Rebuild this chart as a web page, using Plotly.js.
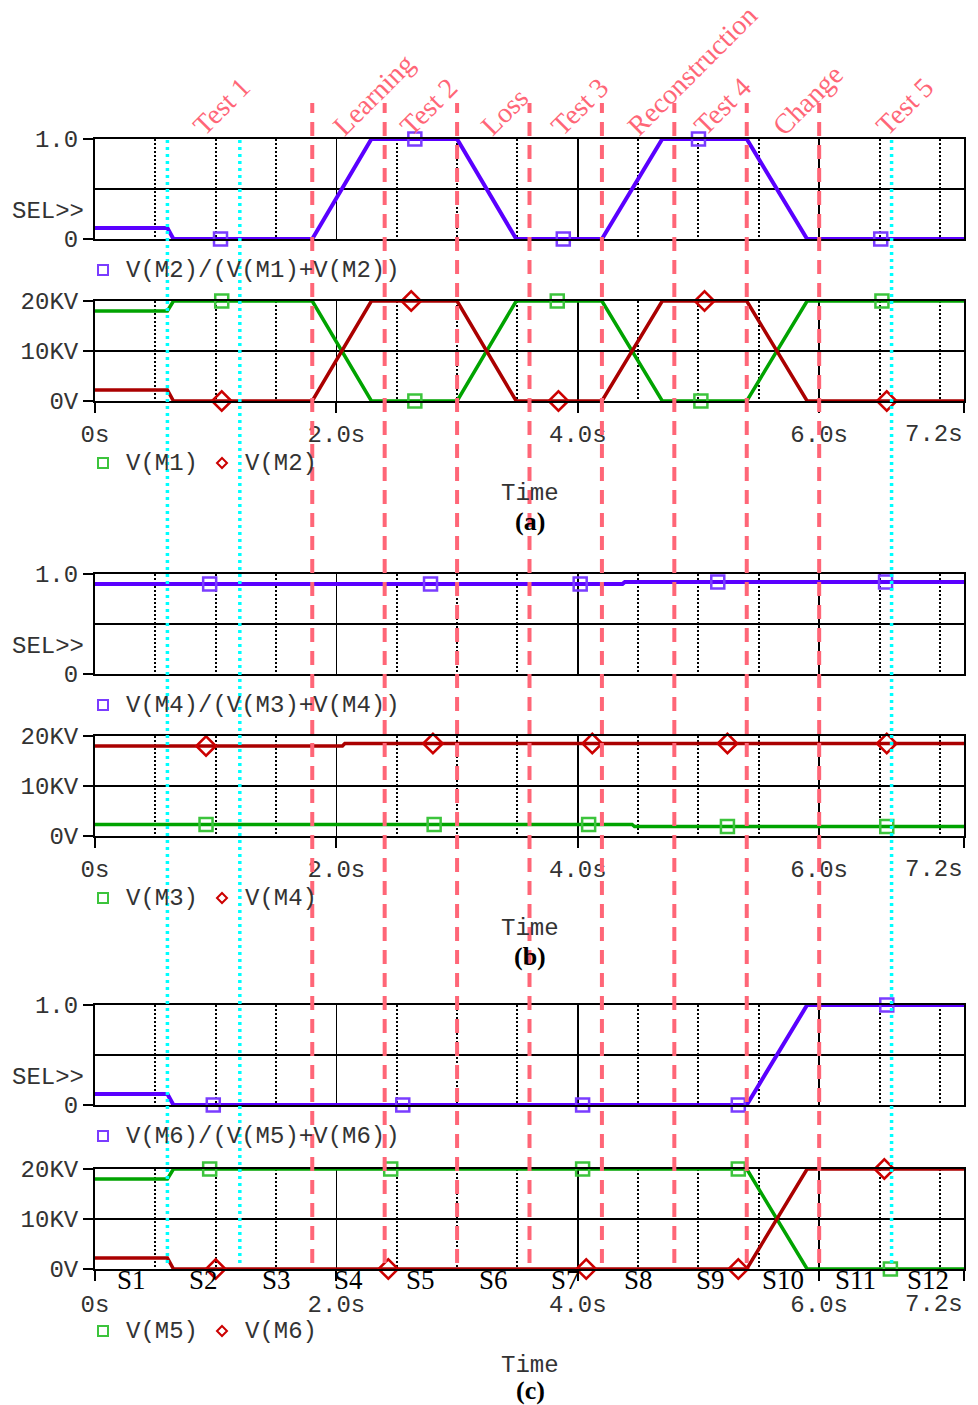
<!DOCTYPE html>
<html>
<head>
<meta charset="utf-8">
<script src="https://cdn.plot.ly/plotly-3.0.1.min.js"></script>
<style>html,body{margin:0;padding:0;background:#fff;}#chart{width:978px;height:1405px;}</style>
</head>
<body>
<div id="chart"></div>
<script>
// ---------------- DATA ----------------
// Panel (a)
const timeA = [0, 0.6, 0.65, 1.8, 2.29, 3.0, 3.49, 4.2, 4.7, 5.4, 5.9, 7.2];
const selA  = [0.11, 0.11, 0, 0, 1, 1, 0, 0, 1, 1, 0, 0];
const vM1   = [18000, 18000, 20000, 20000, 0, 0, 20000, 20000, 0, 0, 20000, 20000];
const vM2   = [2200, 2200, 0, 0, 20000, 20000, 0, 0, 20000, 20000, 0, 0];
const mkSelA_t = [1.04, 2.65, 3.88, 5.0, 6.51];
const mkSelA_v = [0, 1, 0, 1, 0];
const mkM1_t = [1.05, 2.65, 3.83, 5.02, 6.52];
const mkM1_v = [20000, 0, 20000, 0, 20000];
const mkM2_t = [1.05, 2.62, 3.84, 5.05, 6.56];
const mkM2_v = [0, 20000, 0, 20000, 0];

// Panel (b)
const timeSelB = [0, 4.37, 4.39, 7.2];
const selB     = [0.90, 0.90, 0.92, 0.92];
const timeM3   = [0, 4.45, 4.47, 7.2];
const vM3      = [2300, 2300, 1900, 1900];
const timeM4   = [0, 2.05, 2.07, 7.2];
const vM4      = [18000, 18000, 18500, 18500];
const mkSelB_t = [0.95, 2.78, 4.02, 5.16, 6.55];
const mkSelB_v = [0.90, 0.90, 0.90, 0.92, 0.92];
const mkM3_t = [0.92, 2.81, 4.09, 5.24, 6.56];
const mkM3_v = [2300, 2300, 2300, 1900, 1900];
const mkM4_t = [0.92, 2.80, 4.12, 5.24, 6.56];
const mkM4_v = [18000, 18500, 18500, 18500, 18500];

// Panel (c)
const timeC = [0, 0.6, 0.65, 5.4, 5.9, 7.2];
const selC  = [0.11, 0.11, 0, 0, 1, 1];
const vM5   = [18000, 18000, 20000, 20000, 0, 0];
const vM6   = [2200, 2200, 0, 0, 20000, 20000];
const mkSelC_t = [0.98, 2.55, 4.04, 5.33, 6.56];
const mkSelC_v = [0, 0, 0, 0, 1];
const mkM5_t = [0.95, 2.45, 4.04, 5.33, 6.59];
const mkM5_v = [20000, 20000, 20000, 20000, 0];
const mkM6_t = [1.0, 2.43, 4.07, 5.33, 6.54];
const mkM6_v = [0, 0, 0, 0, 20000];

// Event markers / labels
const redLineTimes  = [1.8, 2.4, 3.0, 3.6, 4.2, 4.8, 5.4, 6.0];
const cyanLineTimes = [0.6, 1.2, 6.6];
const phaseLabels     = ['Test 1', 'Learning', 'Test 2', 'Loss', 'Test 3', 'Reconstruction', 'Test 4', 'Change', 'Test 5'];
const phaseLabelTimes = [0.81, 1.975, 2.53, 3.20, 3.78, 4.41, 4.96, 5.62, 6.47];
const stageLabels = ['S1','S2','S3','S4','S5','S6','S7','S8','S9','S10','S11','S12'];
const stageTimes  = [0.3, 0.9, 1.5, 2.1, 2.7, 3.3, 3.9, 4.5, 5.1, 5.7, 6.3, 6.9];

// Ticks / legend texts
const xTickVals = [0, 2, 4, 6, 7.2];
const xTickText = ['0s', '2.0s', '4.0s', '6.0s', '7.2s'];
const xMinorVals = [0.5, 1, 1.5, 2.5, 3, 3.5, 4.5, 5, 5.5, 6.5, 7];
const selTickVals = [0, 1];
const selTickText = ['0', '1.0'];
const voltTickVals = [0, 10000, 20000];
const voltTickText = ['0V', '10KV', '20KV'];
const selLegend = ['V(M2)/(V(M1)+V(M2))', 'V(M4)/(V(M3)+V(M4))', 'V(M6)/(V(M5)+V(M6))'];
const voltLegend = [['V(M1)', 'V(M2)'], ['V(M3)', 'V(M4)'], ['V(M5)', 'V(M6)']];
const panelTags = ['(a)', '(b)', '(c)'];

// ---------------- STYLE / LAYOUT ----------------
const W = 978, H = 1405;
const X0 = 95, X1 = 964;
const PX = x => x / W;
const PY = y => 1 - y / H;
const MONO = 'Liberation Mono, Courier New, monospace';
const SERIF = 'Liberation Serif, Times New Roman, serif';
const TXT = '#333';
const C_PUR = '#5a00ff', C_PUR_M = '#7a3cff';
const C_GRN = '#00a300', C_GRN_M = '#3cc43c';
const C_RED = '#aa0000', C_RED_M = '#cc0000';
const C_DASH = '#ff6677', C_CYAN = '#00ffff';

// subplot pixel boxes [top, bottom]
const boxes = [[139, 239], [301, 401], [574, 674], [736, 836], [1005, 1105], [1169, 1269]];
const lastIdx = xTickText.length - 1;

const layout = {
  width: W, height: H,
  margin: {l: 0, r: 0, t: 0, b: 0},
  paper_bgcolor: '#fff', plot_bgcolor: '#fff',
  showlegend: false,
  shapes: [], annotations: []
};

boxes.forEach((b, k) => {
  const i = k + 1;
  const sfx = i === 1 ? '' : String(i);
  const isSel = (k % 2 === 0);
  const lower = !isSel;
  layout['xaxis' + sfx] = {
    domain: [PX(X0), PX(X1)], range: [0, 7.2], anchor: 'y' + sfx,
    showline: true, mirror: true, linecolor: '#000', linewidth: 2,
    tickmode: 'array', tickvals: xTickVals,
    // last label is right-aligned to the frame edge (drawn as an annotation below)
    ticktext: xTickText.map((t, j) => j === lastIdx ? '' : t),
    showticklabels: lower,
    ticks: lower ? 'outside' : '', ticklen: 10, tickwidth: 2, tickcolor: '#000',
    ticklabelstandoff: i === 6 ? 2 : 0,
    tickfont: {family: MONO, size: 24, color: TXT},
    showgrid: true, gridcolor: '#000', gridwidth: 1.5, zeroline: false,
    minor: {tickmode: 'array', tickvals: xMinorVals, showgrid: true, gridcolor: '#000', gridwidth: 2, griddash: '2px,2px', ticks: ''},
    fixedrange: true
  };
  const yax = {
    domain: [PY(b[1]), PY(b[0])], anchor: 'x' + sfx,
    showline: true, mirror: true, linecolor: '#000', linewidth: 2,
    tickmode: 'array', ticks: 'outside', ticklen: 10, tickwidth: 2, tickcolor: '#000',
    ticklabelstandoff: 0,
    tickfont: {family: MONO, size: 24, color: TXT},
    zeroline: false, fixedrange: true
  };
  if (isSel) {
    Object.assign(yax, {range: [0, 1], tickvals: selTickVals, ticktext: selTickText, showgrid: false,
      minor: {tickmode: 'array', tickvals: [0.5], showgrid: true, gridcolor: '#000', gridwidth: 1.5, ticks: ''}});
  } else {
    Object.assign(yax, {range: [0, 20000], tickvals: voltTickVals, ticktext: voltTickText, showgrid: true, gridcolor: '#000', gridwidth: 1.5});
  }
  layout['yaxis' + sfx] = yax;
});

// ---------------- TRACES ----------------
const traces = [];
function lineTrace(x, y, ax, color, w) {
  return {x: x, y: y, xaxis: 'x' + ax, yaxis: 'y' + ax, type: 'scatter', mode: 'lines',
    line: {color: color, width: w}, cliponaxis: false, hoverinfo: 'skip'};
}
function markTrace(x, y, ax, color, sym, size) {
  return {x: x, y: y, xaxis: 'x' + ax, yaxis: 'y' + ax, type: 'scatter', mode: 'markers',
    marker: {symbol: sym, size: size, color: color, line: {color: color, width: 2.5}},
    cliponaxis: false, hoverinfo: 'skip'};
}
const SQ = 13, DI = 15;
// (a)
traces.push(lineTrace(timeA, selA, '', C_PUR, 4));
traces.push(markTrace(mkSelA_t, mkSelA_v, '', C_PUR_M, 'square-open', SQ));
traces.push(lineTrace(timeA, vM1, '2', C_GRN, 3.5));
traces.push(lineTrace(timeA, vM2, '2', C_RED, 3.5));
traces.push(markTrace(mkM1_t, mkM1_v, '2', C_GRN_M, 'square-open', SQ));
traces.push(markTrace(mkM2_t, mkM2_v, '2', C_RED_M, 'diamond-open', DI));
// (b)
traces.push(lineTrace(timeSelB, selB, '3', C_PUR, 4));
traces.push(markTrace(mkSelB_t, mkSelB_v, '3', C_PUR_M, 'square-open', SQ));
traces.push(lineTrace(timeM3, vM3, '4', C_GRN, 3.5));
traces.push(lineTrace(timeM4, vM4, '4', C_RED, 3.5));
traces.push(markTrace(mkM3_t, mkM3_v, '4', C_GRN_M, 'square-open', SQ));
traces.push(markTrace(mkM4_t, mkM4_v, '4', C_RED_M, 'diamond-open', DI));
// (c)
traces.push(lineTrace(timeC, selC, '5', C_PUR, 4));
traces.push(markTrace(mkSelC_t, mkSelC_v, '5', C_PUR_M, 'square-open', SQ));
traces.push(lineTrace(timeC, vM5, '6', C_GRN, 3.5));
traces.push(lineTrace(timeC, vM6, '6', C_RED, 3.5));
traces.push(markTrace(mkM5_t, mkM5_v, '6', C_GRN_M, 'square-open', SQ));
traces.push(markTrace(mkM6_t, mkM6_v, '6', C_RED_M, 'diamond-open', DI));

// ---------------- SHAPES ----------------
redLineTimes.forEach(t => layout.shapes.push({type: 'line', xref: 'x', yref: 'paper', x0: t, x1: t,
  y0: PY(1263), y1: PY(103), layer: 'above', line: {color: C_DASH, width: 4, dash: '14px,9px'}}));
cyanLineTimes.forEach(t => layout.shapes.push({type: 'line', xref: 'x', yref: 'paper', x0: t, x1: t,
  y0: PY(1263), y1: PY(139), layer: 'above', line: {color: C_CYAN, width: 3.5, dash: '3px,4px'}}));

function legSquare(xp, yp, color) {
  layout.shapes.push({type: 'rect', xref: 'paper', yref: 'paper', xsizemode: 'pixel', ysizemode: 'pixel',
    xanchor: PX(xp), yanchor: PY(yp), x0: -5, x1: 5, y0: -5, y1: 5, line: {color: color, width: 2}});
}
function legDiamond(xp, yp, color) {
  layout.shapes.push({type: 'path', xref: 'paper', yref: 'paper', xsizemode: 'pixel', ysizemode: 'pixel',
    xanchor: PX(xp), yanchor: PY(yp), path: 'M0,5 L5,0 L0,-5 L-5,0 Z', line: {color: color, width: 2}});
}

// ---------------- ANNOTATIONS ----------------
function ann(text, xp, yp, o) {
  layout.annotations.push(Object.assign({text: text, xref: 'paper', yref: 'paper', x: PX(xp), y: PY(yp),
    showarrow: false, xanchor: 'left', yanchor: 'middle', font: {family: MONO, size: 24, color: TXT}}, o || {}));
}

for (let p = 0; p < 3; p++) {
  const top = boxes[2 * p][0];
  const bot = boxes[2 * p + 1][1];
  ann('SEL&gt;&gt;', 86, top + 72, {xanchor: 'right'});
  // last x tick label, right-aligned at the frame edge
  ann(xTickText[lastIdx], X1 + 1, bot + (p === 2 ? 35 : 33), {xanchor: 'right'});
  // legend row 1
  legSquare(103, top + 131, C_PUR_M);
  ann(selLegend[p], 124, top + 131);
  // legend row 2
  legSquare(103, bot + 62, C_GRN_M);
  ann(voltLegend[p][0], 124, bot + 62);
  legDiamond(222, bot + 62, C_RED_M);
  ann(voltLegend[p][1], 243, bot + 62);
  // axis title + tag
  ann('Time', 530, bot + (p === 2 ? 96 : 92), {xanchor: 'center'});
  ann('<b>' + panelTags[p] + '</b>', 530, bot + (p === 2 ? 121 : 120),
      {xanchor: 'center', font: {family: SERIF, size: 26, color: '#000'}});
}

phaseLabels.forEach((lab, j) => {
  layout.annotations.push({text: lab, xref: 'x', yref: 'paper', x: phaseLabelTimes[j], y: PY(144),
    xshift: -9, showarrow: false, textangle: -45, xanchor: 'left', yanchor: 'bottom',
    font: {family: SERIF, size: 28, color: C_DASH}});
});

stageLabels.forEach((lab, j) => {
  layout.annotations.push({text: lab, xref: 'x6', yref: 'paper', x: stageTimes[j], y: PY(1280),
    showarrow: false, xanchor: 'center', yanchor: 'middle',
    font: {family: SERIF, size: 27, color: '#000'}});
});

Plotly.newPlot('chart', traces, layout, {staticPlot: true, displayModeBar: false});
</script>
</body>
</html>
